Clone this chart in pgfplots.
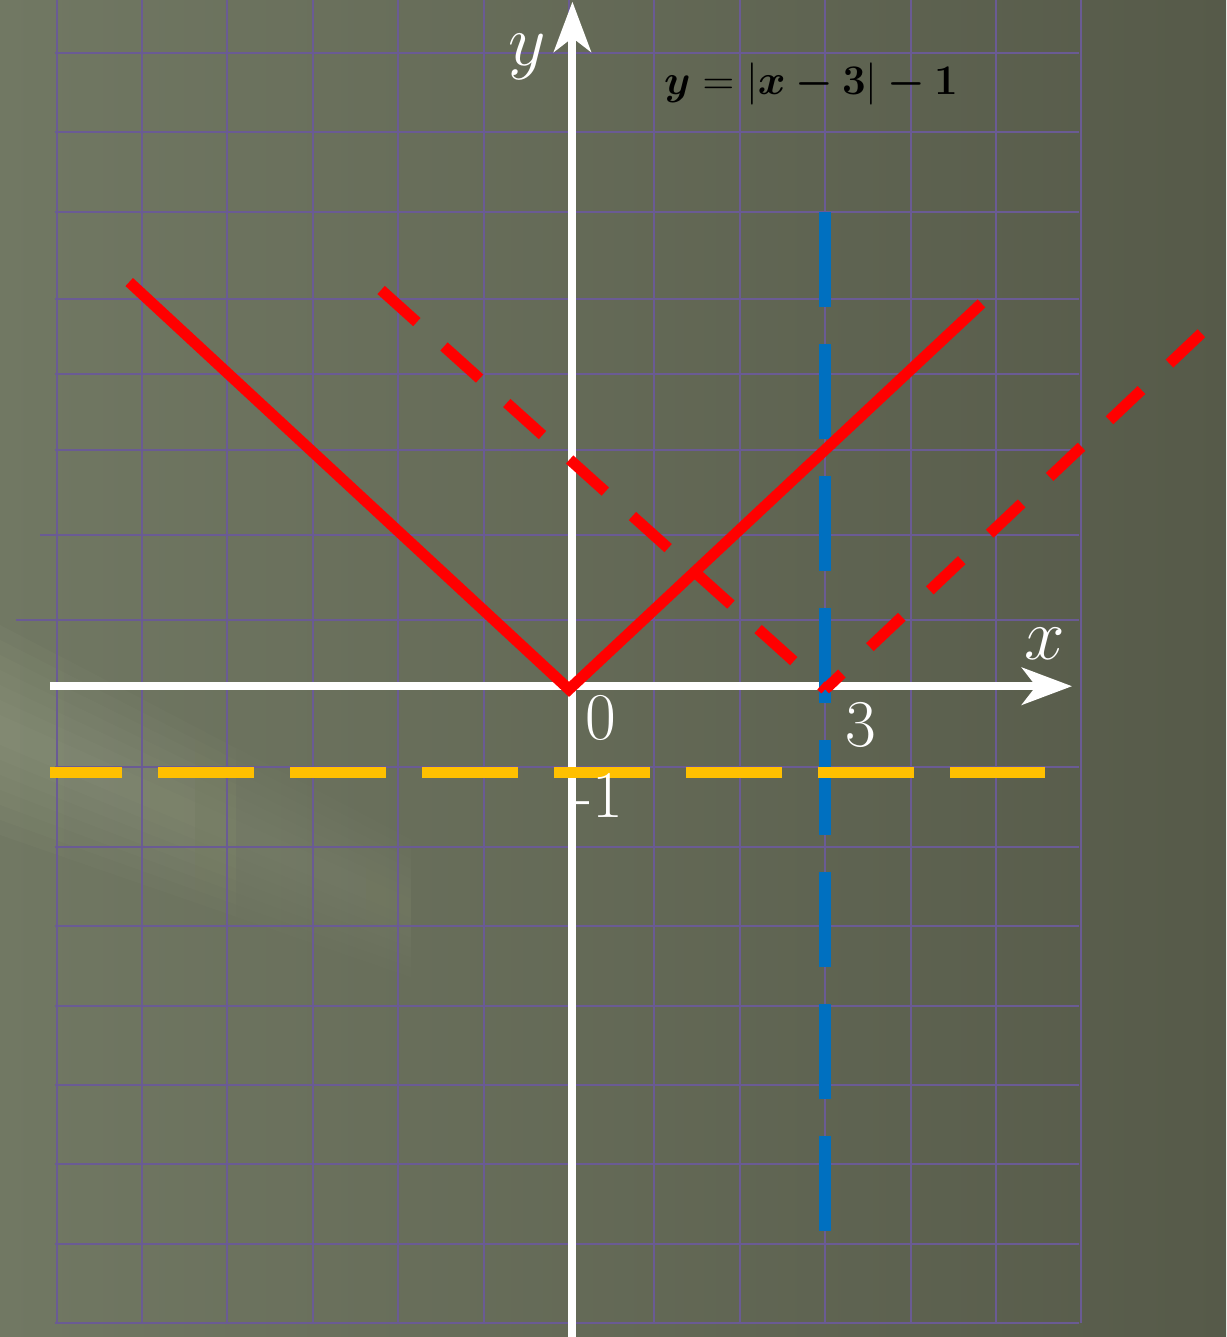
\documentclass[border=0pt]{standalone}
\usepackage{amsmath,bm}
\usepackage{pgfplots}
\pgfplotsset{compat=1.18}
\usetikzlibrary{arrows.meta,fadings}
\definecolor{bgL}{HTML}{717863}
\definecolor{bgR}{HTML}{565A49}
\definecolor{streak}{HTML}{B2BA9E}
\definecolor{gridc}{HTML}{6A5B94}
\definecolor{lnRed}{HTML}{FF0000}
\definecolor{lnBlue}{HTML}{0070C0}
\definecolor{lnGold}{HTML}{FFC000}

\begin{document}
\begin{tikzpicture}
% board background (1 px of the reference = 0.1 mm)
\shade[left color=bgL, right color=bgR] (0,0) rectangle (12.26cm,13.37cm);
% light glare across the lower left, built up from thin layers
\foreach \i in {1,...,7}{
  \fill[streak, opacity=0.05, path fading=east]
    (0cm,{6.07cm+0.15cm*\i}) -- (5.6cm,{3.64cm+0.08cm*\i})
    -- (5.6cm,{3.64cm-0.08cm*\i}) -- (0cm,{6.07cm-0.15cm*\i}) -- cycle;
}
\begin{axis}[at={(0,0)}, anchor=south west, scale only axis,
  width=12.26cm, height=13.37cm,
  xmin=-6.663, xmax=7.693, ymin=-8.186, ymax=8.652, hide axis, clip=true]
  % squared paper
  \pgfplotsinvokeforeach{-6,-5,-4,-3,-2,-1,0,1,2,3,4,5,6}{
    \draw[gridc, line width=0.2mm] (axis cs:#1,-8.01) -- (axis cs:#1,8.652);
  }
  \pgfplotsinvokeforeach{7.985,6.99,5.98,4.89,3.94,2.98,-1.01,-2.02,-3.01,-4.02,-5.01,-6.01,-7.02,-8.01}{
    \draw[gridc, line width=0.2mm] (axis cs:-6.02,#1) -- (axis cs:5.97,#1);
  }
  \draw[gridc, line width=0.2mm] (axis cs:-6.19,1.91) -- (axis cs:5.97,1.91);
  \draw[gridc, line width=0.2mm] (axis cs:-6.475,0.84) -- (axis cs:5.97,0.84);
  % axes
  \draw[white, line width=0.8mm, -{Stealth[length=5mm, width=3.7mm, inset=1.4mm]}]
    (axis cs:-6.08,0.01) -- (axis cs:5.89,0.01);
  \draw[white, line width=0.8mm, -{Stealth[length=5mm, width=3.7mm, inset=1.4mm]}]
    (axis cs:0.04,-8.186) -- (axis cs:0.04,8.63);
  % x = 3 and y = -1
  \addplot[lnBlue, line width=1.25mm, dash pattern=on 9.5mm off 3.7mm]
    coordinates {(3,5.98) (3,-6.88)};
  \addplot[lnGold, line width=1.17mm, dash pattern=on 9.6mm off 3.6mm, dash phase=2.4mm]
    coordinates {(-6.08,-1.077) (5.575,-1.077)};
  % y = |x| and y = |x-3|
  \addplot[lnRed, line width=1.1mm] coordinates {(-5.15,5.1) (0,-0.03) (4.83,4.83)};
  \addplot[lnRed, line width=1.1mm, dash pattern=on 4.8mm off 3.65mm]
    coordinates {(-2.2,5.0) (3,-0.03)};
  \addplot[lnRed, line width=1.1mm, dash pattern=on 4.4mm off 3.85mm, dash phase=2.1mm]
    coordinates {(3,-0.03) (7.45,4.5)};
\end{axis}
% labels
\node[white, font=\fontsize{19}{22}\selectfont] at (6.01cm,6.19cm) {0};
\node[white, font=\fontsize{19}{22}\selectfont] at (8.61cm,6.12cm) {3};
\node[white, font=\fontsize{19}{22}\selectfont] at (5.98cm,5.42cm) {-1};
\node[white, font=\fontsize{20}{24}\selectfont] at (5.27cm,12.80cm) {$y$};
\node[white, font=\fontsize{20}{24}\selectfont] at (10.45cm,6.93cm) {$x$};
\node[black, font=\fontsize{12.6}{15}\selectfont] at (8.11cm,12.53cm)
  {$\bm{y}\mathrel{\mathbf{=}}\lvert\bm{x}\mathbin{\bm{-}}\mathbf{3}\rvert\mathbin{\bm{-}}\mathbf{1}$};
\pgfresetboundingbox
\useasboundingbox (0,0) rectangle (12.26cm,13.37cm);
\end{tikzpicture}
\end{document}
